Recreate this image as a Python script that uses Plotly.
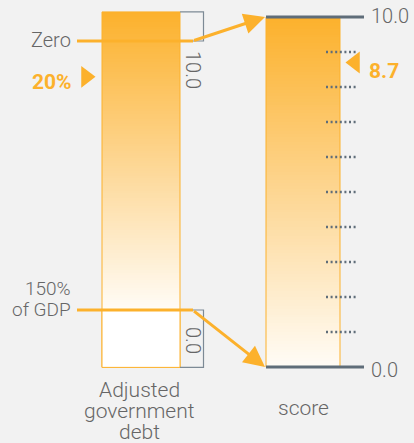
import numpy as np
import plotly.graph_objects as go

# ---- data ----
debt_labels = ["Zero", ["150%", "of GDP"]]
debt_points = [0, 150]            # % of GDP
score_points = [10.0, 0.0]        # score mapped from debt points
score_ticks = [1, 2, 3, 4, 5, 6, 7, 8, 9]
country_debt = 20                 # %
country_score = 8.7
left_title = ["Adjusted", "government", "debt"]
right_title = "score"

# ---- styling ----
BG = "#f2f2f2"
ORANGE = "#fcb12c"
GREY_TXT = "#666666"
SLATE = "#5f6d79"
FONT = "Roboto"
W, H = 414, 443

# axis ranges (score on y, debt on y2 reversed)
Y_RANGE = [-2.171, 10.486]
Y2_RANGE = [224.16, -22.86]


def frac(v, rng):
    return (v - rng[0]) / (rng[1] - rng[0])


def debt_to_score(d):
    f = frac(d, Y2_RANGE)
    return Y_RANGE[0] + f * (Y_RANGE[1] - Y_RANGE[0])


def gfont(size, color=GREY_TXT, weight=300):
    return dict(family=FONT, size=size, color=color, weight=weight)


colorscale = [[0, "#fffcf6"], [0.5, "#fdd692"], [1, ORANGE]]

fig = go.Figure()

# left bar gradient (debt axis)
N = 120
top_d = -16.2
d_edges = np.linspace(top_d, debt_points[1], N + 1)
d_mid = (d_edges[:-1] + d_edges[1:]) / 2
zl = ((debt_points[1] - d_mid) / (debt_points[1] - top_d)).reshape(-1, 1)
fig.add_trace(go.Heatmap(x=[102, 180], y=d_edges, z=zl, colorscale=colorscale,
                         zmin=0, zmax=1, showscale=False, hoverinfo="skip",
                         xaxis="x", yaxis="y2"))

# right bar gradient (score axis)
s_edges = np.linspace(0, 10, N + 1)
s_mid = (s_edges[:-1] + s_edges[1:]) / 2
zr = (s_mid / 10).reshape(-1, 1)
fig.add_trace(go.Heatmap(x=[266, 340], y=s_edges, z=zr, colorscale=colorscale,
                         zmin=0, zmax=1, showscale=False, hoverinfo="skip",
                         xaxis="x", yaxis="y"))

shapes = []
# left bar outlines
shapes.append(dict(type="rect", xref="x", yref="y2", x0=102, x1=180, y0=top_d, y1=182,
                   line=dict(color=ORANGE, width=1), fillcolor="rgba(0,0,0,0)", layer="above"))
shapes.append(dict(type="rect", xref="x", yref="y2", x0=102, x1=180, y0=debt_points[1], y1=182,
                   line=dict(color=ORANGE, width=1), fillcolor="#ffffff", layer="above"))
# grey brackets
for y0, y1 in [(top_d, debt_points[0]), (debt_points[1], 182)]:
    shapes.append(dict(type="path", xref="x", yref="y2",
                       path=f"M 180 {y0} L 203.5 {y0} L 203.5 {y1} L 180 {y1}",
                       line=dict(color="#7d8a95", width=1.2), layer="above"))
# right bar outline
shapes.append(dict(type="rect", xref="x", yref="y", x0=266, x1=340, y0=0, y1=10,
                   line=dict(color=ORANGE, width=1), fillcolor="rgba(0,0,0,0)", layer="above"))
# dotted ticks
for t in score_ticks:
    shapes.append(dict(type="line", xref="x", yref="y", x0=326, x1=358, y0=t, y1=t,
                       line=dict(color=SLATE, width=2.5, dash="2px,2.6px"), layer="above"))
# score top/bottom lines
for s in score_points:
    shapes.append(dict(type="line", xref="x", yref="y", x0=266, x1=364, y0=s, y1=s,
                       line=dict(color=SLATE, width=3), layer="above"))
# horizontal orange lines on debt bar
for d in debt_points:
    shapes.append(dict(type="line", xref="x", yref="y2", x0=77, x1=193, y0=d, y1=d,
                       line=dict(color=ORANGE, width=3), layer="above"))

annotations = []
# diagonal arrows
for d, s in zip(debt_points, score_points):
    annotations.append(dict(x=265, y=s, xref="x", yref="y", ax=192.5, ay=debt_to_score(d),
                            axref="x", ayref="y", text="", showarrow=True, arrowhead=2,
                            arrowsize=1.4, arrowwidth=3, arrowcolor=ORANGE))
# debt labels
annotations.append(dict(x=73, y=debt_points[0], xref="x", yref="y2", text=debt_labels[0],
                        showarrow=False, xanchor="right", yanchor="middle", yshift=1,
                        font=gfont(20)))
for i, line in enumerate(debt_labels[1]):
    annotations.append(dict(x=73, y=debt_points[1], xref="x", yref="y2", text=line,
                            showarrow=False, xanchor="right", yanchor="middle",
                            yshift=22 - 21 * i, font=gfont(19)))
# bracket labels
annotations.append(dict(x=193, y=debt_points[0], xref="x", yref="y2", text="10.0",
                        showarrow=False, textangle=90, yshift=-29, font=gfont(20)))
annotations.append(dict(x=193, y=debt_points[1], xref="x", yref="y2", text="0.0",
                        showarrow=False, textangle=90, yshift=-30, font=gfont(20)))
# score labels
for s in score_points:
    annotations.append(dict(x=369, y=s, xref="x", yref="y", text=f"{s:.1f}",
                            showarrow=False, xanchor="left", yanchor="middle",
                            yshift=1 if s == 10 else -3, font=gfont(20)))
# highlighted values
annotations.append(dict(x=74, y=country_debt, xref="x", yref="y2", text=f"<b>{country_debt}%</b>",
                        showarrow=False, xanchor="right", yanchor="middle", yshift=-5,
                        font=dict(family=FONT, size=21, color=ORANGE)))
annotations.append(dict(x=367, y=country_score, xref="x", yref="y", text=f"<b>{country_score}</b>",
                        showarrow=False, xanchor="left", yanchor="middle", yshift=-8,
                        font=dict(family=FONT, size=21, color=ORANGE)))
# axis titles
for i, line in enumerate(left_title):
    annotations.append(dict(x=139, y=1 - (390 + 21 * i) / H, xref="x", yref="paper", text=line,
                            showarrow=False, xanchor="center", yanchor="middle", font=gfont(21)))
annotations.append(dict(x=303, y=1 - 408 / H, xref="x", yref="paper", text=right_title,
                        showarrow=False, xanchor="center", yanchor="middle", font=gfont(21)))

# triangle markers
fig.add_trace(go.Scatter(x=[86], y=[country_debt], mode="markers", xaxis="x", yaxis="y2",
                         marker=dict(symbol="triangle-right", size=19, color=ORANGE),
                         hoverinfo="skip", showlegend=False))
fig.add_trace(go.Scatter(x=[355], y=[country_score], mode="markers", xaxis="x", yaxis="y",
                         marker=dict(symbol="triangle-left", size=19, color=ORANGE),
                         hoverinfo="skip", showlegend=False))

fig.update_layout(
    width=W, height=H, margin=dict(l=0, r=0, t=0, b=0),
    paper_bgcolor=BG, plot_bgcolor=BG, showlegend=False,
    xaxis=dict(range=[0, W], visible=False, fixedrange=True),
    yaxis=dict(range=Y_RANGE, visible=False, fixedrange=True, domain=[0, 1]),
    yaxis2=dict(range=Y2_RANGE, visible=False, fixedrange=True, overlaying="y"),
    shapes=shapes, annotations=annotations,
)

fig.write_html("out.html", config={"displayModeBar": False},
               post_script="document.body.style.margin='0';document.body.style.overflow='hidden';")
